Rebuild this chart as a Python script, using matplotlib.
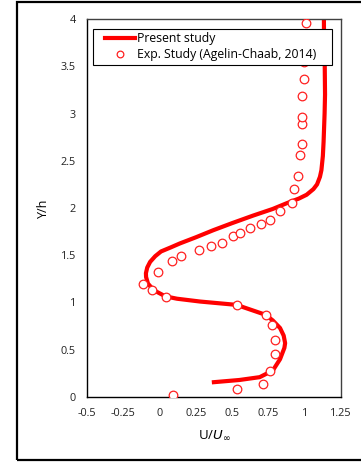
import matplotlib.pyplot as plt
from matplotlib.patches import Rectangle
from matplotlib.lines import Line2D
from matplotlib.legend_handler import HandlerLine2D

plt.rcParams['font.family'] = ['Open Sans', 'DejaVu Sans']
plt.rcParams['mathtext.fontset'] = 'dejavusans'

# Present study (simulated velocity profile)
sim_u = [0.36, 0.55, 0.69, 0.78, 0.83, 0.86, 0.865, 0.855, 0.83, 0.78, 0.73,
         0.53, 0.28, 0.12, 0.04, -0.04, -0.08, -0.093, -0.094, -0.085, -0.065,
         -0.03, 0.01, 0.08, 0.14, 0.25, 0.37, 0.50, 0.645, 0.78, 0.875, 0.96,
         1.013, 1.06, 1.085, 1.105, 1.115, 1.125, 1.13, 1.137, 1.14, 1.138,
         1.133, 1.132]
sim_y = [0.155, 0.18, 0.21, 0.28, 0.40, 0.52, 0.57, 0.65, 0.73, 0.81, 0.87,
         0.975, 1.01, 1.04, 1.065, 1.13, 1.20, 1.27, 1.31, 1.37, 1.43,
         1.49, 1.54, 1.585, 1.625, 1.69, 1.765, 1.84, 1.92, 1.99, 2.05, 2.10,
         2.14, 2.20, 2.25, 2.33, 2.40, 2.55, 2.70, 3.0, 3.2, 3.5,
         3.8, 4.05]

# Experimental data (Agelin-Chaab, 2014)
exp_u = [0.094, 0.531, 0.710, 0.760, 0.795, 0.795, 0.776, 0.731, 0.531,
         0.044, -0.050, -0.112, -0.011, 0.083, 0.147, 0.269, 0.352, 0.428,
         0.503, 0.554, 0.620, 0.696, 0.760, 0.829, 0.912, 0.926, 0.955,
         0.967, 0.978, 0.980, 0.980, 0.980, 0.994, 0.994, 1.008]
exp_y = [0.018, 0.081, 0.134, 0.278, 0.458, 0.603, 0.758, 0.871, 0.977,
         1.055, 1.132, 1.192, 1.320, 1.439, 1.492, 1.556, 1.601, 1.626,
         1.704, 1.739, 1.785, 1.831, 1.873, 1.972, 2.056, 2.200, 2.339,
         2.560, 2.677, 2.889, 2.966, 3.180, 3.360, 3.550, 3.955]

x_ticks = [-0.5, -0.25, 0, 0.25, 0.5, 0.75, 1, 1.25]
x_ticklabels = ['-0.5', '-0.25', '0', '0.25', '0.5', '0.75', '1', '1.25']
y_ticks = [0, 0.5, 1, 1.5, 2, 2.5, 3, 3.5, 4]
y_ticklabels = ['0', '0.5', '1', '1.5', '2', '2.5', '3', '3.5', '4']
legend_labels = ['Present study', 'Exp. Study (Agelin-Chaab, 2014)']

fig = plt.figure(figsize=(3.61, 4.62), dpi=100)
ax = fig.add_axes([87 / 361, 65 / 462, 254 / 361, 378 / 462])

ax.plot(sim_u, sim_y, color='#ff0000', lw=3.0, solid_capstyle='butt', zorder=2)
ax.plot(exp_u, exp_y, ls='none', marker='o', ms=6.2, mfc='white',
        mec='#ff2020', mew=0.9, zorder=3)

ax.set_xlim(-0.5, 1.25)
ax.set_ylim(0, 4)
ax.set_xticks(x_ticks)
ax.set_xticklabels(x_ticklabels)
ax.set_yticks(y_ticks)
ax.set_yticklabels(y_ticklabels)
ax.tick_params(length=0, labelsize=7.8, colors='#222222', pad=8)

for side in ['left', 'bottom']:
    ax.spines[side].set_color('#000000')
    ax.spines[side].set_linewidth(1.0)
for side in ['top', 'right']:
    ax.spines[side].set_color('#404040')
    ax.spines[side].set_linewidth(1.0)

ax.set_xlabel(r'U/$U_\infty$', fontsize=9.5, labelpad=7)
ax.set_ylabel('Y/h', fontsize=9, labelpad=8)

# legend handles with a little space before the line sample
handles = [Line2D([], [], color='#ff0000', lw=3.0),
           Line2D([], [], ls='none', marker='o', ms=4.8, mfc='white',
                  mec='#ff2020', mew=0.9)]
leg = ax.legend(handles, legend_labels,
                loc='upper left', bbox_to_anchor=(0.024, 0.974, 0.941, 0),
                mode='expand', borderaxespad=0, fancybox=False, framealpha=1,
                edgecolor='#000000', fontsize=8.8, handlelength=3.15,
                handletextpad=0.15, labelspacing=0.2, borderpad=0.3,
                handler_map={Line2D: HandlerLine2D(xpad=0.7)})
leg.get_frame().set_linewidth(0.8)

# outer border round the whole chart
fig.patches.append(Rectangle((17 / 361, 2 / 462), 1.0, 458 / 462,
                             transform=fig.transFigure, fill=False,
                             edgecolor='black', lw=1.6))

fig.savefig('out.png', dpi=100)
